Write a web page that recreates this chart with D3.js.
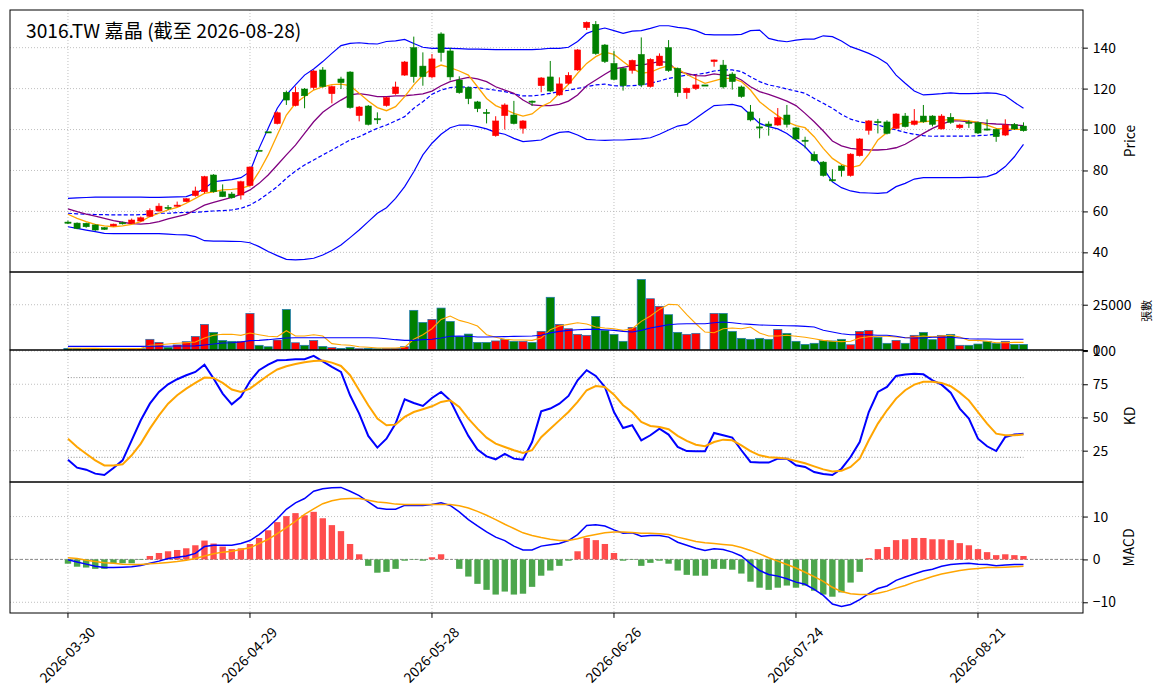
<!DOCTYPE html>
<html><head><meta charset="utf-8">
<script src="https://cdn.jsdelivr.net/npm/d3@7"></script>
<style>html,body{margin:0;padding:0;background:#fff;}svg{display:block;}</style>
</head><body>
<div id="chart"></div>
<script>
const title = "3016.TW 嘉晶 (截至 2026-08-28)";
const dates = ["2026-03-30","2026-03-31","2026-04-01","2026-04-02","2026-04-07","2026-04-08","2026-04-09","2026-04-10","2026-04-13","2026-04-14",
"2026-04-15","2026-04-16","2026-04-17","2026-04-20","2026-04-21","2026-04-22","2026-04-23","2026-04-24","2026-04-27","2026-04-28",
"2026-04-29","2026-04-30","2026-05-04","2026-05-05","2026-05-06","2026-05-07","2026-05-08","2026-05-11","2026-05-12","2026-05-13",
"2026-05-14","2026-05-15","2026-05-18","2026-05-19","2026-05-20","2026-05-21","2026-05-22","2026-05-25","2026-05-26","2026-05-27",
"2026-05-28","2026-05-29","2026-06-01","2026-06-02","2026-06-03","2026-06-04","2026-06-05","2026-06-08","2026-06-09","2026-06-10",
"2026-06-11","2026-06-12","2026-06-15","2026-06-16","2026-06-17","2026-06-18","2026-06-22","2026-06-23","2026-06-24","2026-06-25",
"2026-06-26","2026-06-29","2026-06-30","2026-07-01","2026-07-02","2026-07-03","2026-07-06","2026-07-07","2026-07-08","2026-07-09",
"2026-07-10","2026-07-13","2026-07-14","2026-07-15","2026-07-16","2026-07-17","2026-07-20","2026-07-21","2026-07-22","2026-07-23",
"2026-07-24","2026-07-27","2026-07-28","2026-07-29","2026-07-30","2026-07-31","2026-08-03","2026-08-04","2026-08-05","2026-08-06",
"2026-08-07","2026-08-10","2026-08-11","2026-08-12","2026-08-13","2026-08-14","2026-08-17","2026-08-18","2026-08-19","2026-08-20",
"2026-08-21","2026-08-24","2026-08-25","2026-08-26","2026-08-27","2026-08-28"];
const xTickDates = ["2026-03-30","2026-04-29","2026-05-28","2026-06-26","2026-07-24","2026-08-21"];

const open = [54.8,54.3,54.2,53.4,52.1,52.9,54.5,54.2,55.3,57.6,
60.2,62.0,62.6,64.8,67.7,69.6,77.8,69.6,68.5,68.0,
72.6,89.9,98.9,102.9,118.2,111.7,119.8,120.5,129.1,117.5,
124.7,128.1,106.8,111.5,105.3,111.7,117.5,126.6,140.0,131.0,
125.7,146.7,138.4,124.2,120.5,113.5,108.4,97.0,106.8,107.1,
100.6,113.9,121.4,125.7,116.9,122.6,129.1,149.8,151.4,141.3,
132.3,129.9,128.9,136.7,121.0,131.2,140.0,129.9,118.0,120.0,
121.8,133.2,131.5,127.1,120.8,108.6,101.3,102.7,102.2,107.1,
100.8,94.8,87.9,84.1,75.5,82.2,77.5,87.2,99.6,103.9,
103.7,100.6,106.6,102.5,106.6,106.6,100.3,106.0,100.9,103.6,
103.4,100.3,100.1,97.3,102.5,101.7];
const high = [55.5,54.6,54.5,53.6,52.3,54.0,55.0,56.5,57.5,61.5,
64.0,63.1,64.8,66.5,72.1,77.4,78.2,73.2,69.5,75.0,
81.9,89.9,98.9,108.8,119.0,121.0,120.3,129.2,130.5,121.5,
125.8,128.5,111.5,112.0,108.4,116.0,123.4,133.5,145.4,137.7,
136.9,147.5,140.0,126.0,121.0,114.0,110.0,106.5,112.8,114.0,
104.6,114.2,125.6,133.5,125.5,128.0,139.3,152.8,153.0,141.8,
138.5,130.3,134.2,145.0,134.8,137.2,143.7,130.3,120.5,127.0,
121.8,134.2,134.0,128.0,121.5,112.0,105.5,104.0,110.5,112.0,
101.3,96.5,89.3,84.6,80.6,82.6,88.4,95.8,104.6,105.2,
104.5,108.0,108.1,110.0,112.0,107.0,107.5,108.0,102.8,104.5,
103.8,105.0,100.5,105.0,103.2,103.5];
const low = [53.8,51.3,52.0,50.5,51.0,52.7,53.6,54.0,55.0,57.2,
59.8,60.7,62.3,64.5,67.2,68.8,69.2,67.0,66.2,65.8,
72.2,89.9,98.9,102.5,112.0,111.3,110.4,119.5,120.5,112.8,
119.8,110.2,104.0,102.0,102.7,111.2,117.0,126.2,122.9,121.4,
125.0,133.2,124.0,117.5,112.4,108.5,103.0,96.5,100.0,102.5,
98.0,111.5,118.2,118.3,116.5,122.0,128.7,148.6,136.5,132.5,
124.0,119.0,127.3,120.7,120.5,131.0,128.2,116.0,115.0,119.3,
121.8,130.7,120.0,119.5,115.5,104.0,95.7,97.0,101.8,101.0,
95.0,90.8,84.3,77.0,74.5,77.0,77.0,86.8,97.5,98.1,
97.6,100.2,101.0,102.0,103.3,101.5,100.0,102.8,100.3,100.8,
97.8,99.5,94.0,96.8,99.8,99.0];
const close = [54.4,51.7,52.5,50.9,51.2,53.8,54.2,55.8,56.9,60.5,
62.6,61.7,63.1,66.2,70.0,77.0,69.6,67.2,66.7,74.5,
81.7,89.9,98.9,108.2,114.4,118.2,116.5,128.6,121.0,121.0,
122.9,110.7,111.0,102.5,104.9,115.6,120.8,133.0,125.8,125.8,
134.5,137.6,125.7,118.0,115.1,110.2,108.0,104.2,112.0,102.9,
104.2,113.5,125.2,118.8,122.3,126.5,138.9,152.4,137.1,133.2,
124.5,121.4,133.8,121.8,134.3,135.9,128.8,118.0,120.1,121.8,
121.8,134.0,120.8,123.4,116.1,104.7,100.9,101.7,105.8,102.5,
95.4,94.4,84.8,77.5,75.1,79.9,88.0,95.4,104.2,103.5,
98.1,107.6,101.4,104.2,103.8,102.5,106.6,103.5,102.2,103.2,
98.3,99.9,96.5,102.2,100.3,99.4];
const volume = [900,900,400,900,700,700,550,700,700,5900,
4200,1500,2800,4600,7500,14150,9750,5300,4800,4800,
20200,2600,1800,5500,22400,4000,2600,5300,2000,1300,
900,1500,700,900,700,900,900,1800,21900,15250,
16900,23150,15800,7350,8800,4200,4200,5000,5900,4800,
4800,4200,10300,29100,14150,11750,8650,8100,18550,10850,
8650,4800,12500,38950,28300,24100,19500,9750,8650,9200,
0,20200,20200,10300,6450,5900,6450,5900,11400,9200,
4800,3100,3700,5300,5000,5900,2900,10300,10850,7000,
3700,5300,3700,8100,9750,5700,8100,8650,2600,2600,
3300,4800,3700,4800,3100,3100];
const ma5 = [58.6,56.6,55.0,53.7,52.9,52.5,52.9,53.7,55.0,57.5,
59.1,60.7,62.0,64.0,66.4,68.8,69.6,70.5,70.8,71.3,
72.6,79.4,87.6,97.3,107.1,112.8,116.1,119.3,120.9,121.9,
122.2,121.4,117.7,113.9,110.7,109.2,111.2,116.1,121.8,126.6,
129.6,131.5,130.2,128.6,126.6,120.9,115.2,111.7,109.9,107.9,
106.6,107.6,111.2,113.3,117.7,122.1,127.5,132.3,135.6,137.8,
136.7,133.2,129.9,127.5,128.0,129.9,131.2,129.6,126.9,124.7,
122.6,123.8,125.0,125.0,123.4,119.3,113.6,110.0,106.8,103.8,
101.9,100.9,96.5,90.8,85.9,83.0,81.4,82.5,88.0,94.9,
98.6,102.2,103.4,103.5,103.8,104.2,104.5,105.0,104.7,104.2,
103.5,102.2,100.6,100.3,100.1,100.1];
const ma10 = [61.2,59.9,58.7,57.7,56.6,55.5,54.7,54.0,53.8,54.2,
55.0,56.4,57.5,58.6,60.7,63.1,64.4,65.6,66.9,68.3,
70.5,73.7,77.8,82.7,87.6,92.4,98.1,103.8,108.4,111.6,
114.4,116.9,117.5,116.9,116.1,116.1,116.4,116.5,116.9,117.4,
118.8,121.4,123.4,124.5,125.5,124.7,123.4,120.9,119.3,117.7,
114.4,112.0,111.7,111.7,112.3,113.9,116.9,121.4,124.2,127.0,
129.6,130.4,131.2,131.5,132.3,133.2,132.8,128.3,127.4,126.3,
126.2,127.2,126.6,126.3,124.2,120.9,118.5,117.2,115.6,113.9,
111.7,107.9,103.8,99.3,94.4,92.0,90.8,90.3,90.0,90.0,
90.3,91.1,92.8,95.4,98.1,100.6,102.5,104.2,104.2,103.8,
103.5,103.0,102.7,102.5,102.2,101.9];
const bbUpper = [66.4,66.6,66.8,67.0,67.0,67.0,67.0,67.0,67.0,66.9,
66.9,67.0,67.1,67.2,68.8,71.3,74.5,75.0,75.5,76.5,
79.4,90.8,100.6,110.4,116.9,121.8,126.6,129.6,133.2,137.2,
141.0,142.1,142.4,142.0,141.8,143.0,143.3,144.0,142.0,140.2,
139.7,139.8,139.7,139.5,139.3,139.3,139.2,139.0,139.0,139.0,
139.0,139.0,139.3,139.7,139.7,140.2,143.0,147.0,148.6,149.6,
148.3,147.0,148.1,148.3,149.4,150.7,150.7,149.9,149.4,148.3,
146.5,146.2,146.2,146.2,146.5,148.3,148.6,144.5,143.4,142.9,
143.7,144.2,144.2,145.8,145.4,143.3,140.5,138.9,137.2,135.1,
132.3,126.6,122.6,118.8,116.9,117.2,117.5,117.9,117.5,117.5,
117.7,117.9,117.7,116.5,113.3,110.4];
const bbMid = [59.1,58.8,58.6,58.5,58.4,58.3,58.3,58.3,58.4,58.6,
59.1,59.1,59.4,59.5,59.6,59.9,60.2,60.4,60.7,61.5,
63.1,65.6,68.8,72.1,76.2,79.7,82.7,85.1,87.6,90.0,
92.4,94.9,96.5,98.6,100.6,102.2,104.2,106.3,110.4,113.6,
117.2,119.3,120.5,120.9,120.6,120.5,119.8,119.2,118.5,117.4,
116.4,116.4,116.9,117.7,118.5,119.2,120.1,120.9,121.8,122.2,
121.4,121.3,121.4,121.8,122.6,123.7,125.0,125.8,126.6,126.9,
127.5,128.6,129.1,129.1,128.3,125.8,123.4,121.8,120.9,119.8,
118.8,117.7,115.2,112.8,110.4,107.4,105.1,103.8,103.0,102.2,
100.9,99.8,98.6,97.7,97.0,96.7,96.8,96.8,96.8,96.8,
97.0,97.3,97.7,99.0,100.3,101.4];
const bbLower = [52.5,51.7,50.9,50.1,49.3,49.1,49.1,49.1,49.1,49.1,
49.1,48.9,48.6,48.5,47.7,45.7,45.5,45.5,45.4,45.3,
44.7,42.8,40.4,38.4,36.6,36.3,36.6,37.1,38.7,40.9,
43.6,47.2,50.9,55.0,59.1,61.8,66.4,72.1,79.4,87.6,
93.3,97.7,100.9,102.2,102.2,101.4,100.3,98.6,97.7,95.7,
94.1,94.5,94.9,97.0,98.6,99.0,97.3,95.2,94.9,94.7,
94.9,94.9,95.2,95.4,96.0,97.7,99.8,101.7,102.5,105.5,
108.7,111.7,112.0,112.3,111.2,107.1,103.0,101.4,100.3,98.1,
94.9,91.6,86.7,81.0,74.5,71.6,70.0,69.2,69.0,68.8,
69.2,72.1,73.7,75.8,76.5,76.5,76.5,76.5,76.5,76.6,
76.6,77.0,78.6,81.9,86.7,92.8];
const volMa5 = [1000,1000,900,900,800,800,800,800,800,2600,
2900,3300,3700,4000,4400,6600,8100,8650,8650,8100,
9400,8450,7550,7350,10650,7700,7700,8450,7700,3500,
2900,2600,1800,1500,1100,1100,1100,1500,5900,8450,
11750,16900,18750,16350,15050,13250,8450,7000,5900,5500,
5500,5300,6600,11200,13250,14150,15050,14350,12700,12150,
11750,10850,11750,15800,18750,22400,25200,25000,19500,14500,
9900,9550,11750,12150,11750,12700,9400,7700,7700,8100,
7550,7000,6250,5300,4800,4600,4800,6600,7350,7550,
7550,7150,6800,7150,7700,7350,7700,8100,7150,5300,
5300,4800,4000,4000,4200,4200];
const volMa20 = [2000,2000,2000,2000,2000,2000,2000,2000,2000,2100,
2100,2100,2200,2200,2300,2750,3300,3850,4000,4400,
5150,5300,5700,6250,6600,6800,6800,6800,6800,6800,
6800,6800,6800,6800,6600,6250,5700,5300,5300,5700,
5900,6600,7550,7700,7550,7150,7150,7300,7400,7500,
7600,7700,8100,9450,10300,10850,11200,11400,11400,11200,
10850,10300,9900,10850,12150,13050,13950,14350,14500,14500,
14500,15050,15450,15050,14500,14150,13800,13650,13500,13400,
13300,13050,12700,10850,9900,9000,8450,8450,8450,8100,
8100,7550,6800,6600,6600,7000,7000,7000,6600,6250,
6050,6050,5900,5900,5900,5900];
const kValues = [18.2,12.2,10.7,7.7,6.7,11.9,17.7,32.8,47.9,60.4,
69.2,75.0,78.8,81.8,84.3,89.8,79.3,68.0,59.9,65.5,
77.3,85.6,89.8,93.1,93.3,93.8,93.8,96.4,92.3,88.1,
84.3,66.7,52.9,36.1,27.3,34.0,45.4,63.7,60.9,58.7,
64.7,69.2,62.9,49.1,36.1,25.8,20.7,18.5,22.5,19.0,
18.2,31.5,54.6,56.7,60.4,66.2,78.0,85.6,81.3,73.0,
54.1,42.1,44.1,32.8,36.6,41.6,37.1,27.8,24.7,24.5,
24.5,38.3,36.6,34.8,25.3,16.5,16.0,16.0,19.0,19.0,
14.0,12.7,8.9,7.4,6.7,11.4,20.2,31.5,54.1,69.2,
73.0,81.3,82.3,83.0,82.5,78.0,74.7,68.7,56.7,49.1,
34.0,28.3,24.7,35.3,37.1,37.8];
const dValues = [34.0,27.8,22.7,17.7,13.9,13.9,14.7,21.5,30.3,41.6,
51.6,60.4,66.7,71.7,76.0,80.0,79.8,76.0,71.0,69.2,
71.7,76.8,81.8,86.1,88.6,90.3,91.6,92.6,92.8,91.3,
88.8,81.8,70.5,59.2,49.1,44.1,44.6,50.4,54.1,56.2,
58.4,61.7,62.9,57.9,49.1,41.6,34.8,30.3,27.8,25.3,
23.2,25.3,35.1,41.5,47.8,54.1,61.7,70.5,73.7,73.0,
67.2,59.2,54.1,46.6,43.6,42.8,41.1,36.1,32.3,29.5,
28.3,31.5,33.3,32.8,29.0,24.7,21.5,20.0,19.7,19.0,
17.2,15.5,13.2,10.9,9.4,9.9,12.7,19.0,32.8,45.4,
55.4,64.2,70.5,74.7,76.8,76.8,76.0,73.5,68.7,62.9,
54.1,45.4,37.8,36.6,36.6,37.1];
const dif = [-0.1,-0.6,-1.1,-1.6,-1.9,-1.9,-1.8,-1.7,-1.4,-0.9,
-0.4,0.2,0.5,0.8,1.4,3.0,3.3,3.3,3.3,3.7,
4.4,5.8,7.5,9.5,11.7,13.2,14.2,15.9,16.5,16.7,
16.8,15.9,14.9,13.4,12.0,11.7,11.7,12.6,12.6,12.6,
12.8,13.2,12.6,11.1,9.3,7.8,6.4,5.2,4.4,3.1,
2.2,2.2,3.1,3.4,3.7,4.4,5.8,7.9,8.1,7.8,
6.9,6.1,6.2,5.4,5.6,5.6,5.2,4.0,3.3,2.6,
2.1,2.5,2.3,1.7,0.8,-1.0,-2.6,-3.5,-3.9,-4.5,
-5.3,-5.8,-7.0,-8.4,-10.4,-11.0,-10.5,-9.4,-8.0,-6.8,
-6.2,-4.9,-4.1,-3.4,-2.7,-2.3,-1.6,-1.2,-1.0,-0.9,
-1.1,-1.2,-1.5,-1.3,-1.2,-1.2];
const dea = [0.4,0.2,-0.2,-0.5,-0.8,-0.9,-1.1,-1.2,-1.2,-1.0,
-0.9,-0.7,-0.5,-0.2,0.2,0.8,1.3,1.7,1.9,2.3,
2.7,3.7,4.7,6.0,7.4,8.9,10.5,11.8,13.0,13.7,
14.1,14.2,14.2,13.8,13.4,13.2,12.9,12.8,12.8,12.8,
12.8,12.8,12.8,12.5,12.0,11.2,10.3,9.3,8.2,7.2,
6.2,5.6,5.1,4.7,4.4,4.4,4.8,5.4,5.8,6.2,
6.4,6.4,6.3,6.1,6.1,6.0,5.8,5.2,4.7,4.2,
3.9,3.7,3.5,3.3,2.8,2.1,1.3,0.4,-0.4,-1.2,
-2.0,-3.0,-4.0,-5.1,-6.5,-7.5,-8.0,-8.2,-8.2,-7.9,
-7.4,-6.7,-6.1,-5.3,-4.7,-4.0,-3.4,-3.0,-2.6,-2.3,
-2.1,-1.9,-1.9,-1.8,-1.7,-1.6];
const hist = [-1.0,-1.7,-1.9,-2.2,-2.2,-0.9,-0.9,-0.9,-0.1,0.8,
1.5,1.9,2.2,2.6,3.3,4.4,3.7,3.0,2.4,2.6,
3.6,5.0,6.8,8.7,10.1,10.8,10.3,11.1,9.6,8.0,
6.6,3.6,1.2,-1.5,-3.1,-2.9,-2.2,-0.3,-0.1,-0.3,
0.5,1.2,0.0,-2.2,-4.0,-5.7,-7.1,-8.2,-7.5,-8.2,
-8.0,-6.4,-3.8,-2.6,-1.5,-0.3,1.9,5.0,4.5,3.6,
1.5,-0.3,-0.1,-1.5,-0.8,-0.3,-1.0,-2.6,-3.6,-3.8,
-3.8,-2.2,-2.2,-2.4,-3.3,-5.2,-6.6,-7.1,-6.6,-6.1,
-6.6,-6.1,-7.3,-8.2,-8.7,-7.7,-5.4,-2.9,0.3,2.4,
2.9,4.5,4.7,5.0,5.0,4.7,4.7,4.5,3.8,3.3,
2.4,1.7,1.0,1.2,1.0,0.8];
const priceTicks = [40,60,80,100,120,140];
const volTicks = [0,25000];
const kdTicks = [25,50,75,100];
const kdRefLines = [20,80];
const macdTicks = [-10,0,10];

const W = 1164, H = 698;
const L = 10, R = 1083;
const panels = {
  price: {top:10, bottom:272},
  vol: {top:272, bottom:350},
  kd: {top:350, bottom:482},
  macd: {top:482, bottom:613}
};
const FONT = "'Noto Sans CJK TC','Noto Sans',sans-serif";
const UP = "#ff0000", DOWN = "#008000";

const svg = d3.select("#chart").append("svg").attr("width", W).attr("height", H)
  .style("font-family", FONT);
svg.append("rect").attr("width", W).attr("height", H).attr("fill", "#fff");

const n = dates.length;
const idx = d3.range(n);
const x = d3.scaleLinear().domain([-6.37, 111.54]).range([L, R]);

const yP = d3.scaleLinear().domain([30.4, 158.4]).range([panels.price.bottom, panels.price.top]);
const yV = d3.scaleLinear().domain([0, 43050]).range([panels.vol.bottom, panels.vol.top]);
const yK = d3.scaleLinear().domain([1.4, 100.8]).range([panels.kd.bottom, panels.kd.top]);
const yM = d3.scaleLinear().domain([-12.5, 18.06]).range([panels.macd.bottom, panels.macd.top]);

const defs = svg.append("defs");
Object.entries(panels).forEach(([k,p]) => {
  defs.append("clipPath").attr("id","clip-"+k).append("rect")
    .attr("x", L).attr("y", p.top).attr("width", R-L).attr("height", p.bottom-p.top);
});

const xTickIdx = xTickDates.map(d => dates.indexOf(d));
const gridColor = "#b0b0b0";

function drawGrid(key, yScale, ticks) {
  const p = panels[key];
  const g = svg.append("g").attr("clip-path", `url(#clip-${key})`);
  xTickIdx.forEach(i => {
    g.append("line").attr("x1", x(i)).attr("x2", x(i)).attr("y1", p.top).attr("y2", p.bottom)
      .attr("stroke", gridColor).attr("stroke-width", 0.8).attr("stroke-dasharray", "1,2");
  });
  ticks.forEach(t => {
    const yy = yScale(t);
    if (yy <= p.top + 0.5 || yy >= p.bottom - 0.5) return;
    g.append("line").attr("x1", L).attr("x2", R).attr("y1", yy).attr("y2", yy)
      .attr("stroke", gridColor).attr("stroke-width", 0.8).attr("stroke-dasharray", "1,2");
  });
  return g;
}

function lineOf(arr, yScale) {
  return d3.line().x((d,i) => x(i)).y(d => yScale(d))(arr);
}

// ---------- Price panel ----------
const gP = drawGrid("price", yP, priceTicks);
const isUp = i => close[i] > open[i];
gP.append("path").attr("d", lineOf(bbUpper, yP)).attr("fill","none").attr("stroke","#0000ff").attr("stroke-width",1.2);
gP.append("path").attr("d", lineOf(bbLower, yP)).attr("fill","none").attr("stroke","#0000ff").attr("stroke-width",1.2);
gP.append("path").attr("d", lineOf(bbMid, yP)).attr("fill","none").attr("stroke","#0000ff").attr("stroke-width",1.2).attr("stroke-dasharray","4,2.2");
gP.append("path").attr("d", lineOf(ma10, yP)).attr("fill","none").attr("stroke","#800080").attr("stroke-width",1.3);
gP.append("path").attr("d", lineOf(ma5, yP)).attr("fill","none").attr("stroke","#ffa500").attr("stroke-width",1.3);

const step = x(1) - x(0);
const bodyW = step * 0.68;
const candles = gP.append("g");
idx.forEach(i => {
  const c = isUp(i) ? UP : DOWN;
  candles.append("line").attr("x1", x(i)).attr("x2", x(i)).attr("y1", yP(high[i])).attr("y2", yP(low[i]))
    .attr("stroke", c).attr("stroke-width", 1);
  const top = yP(Math.max(open[i], close[i])), bot = yP(Math.min(open[i], close[i]));
  candles.append("rect").attr("x", x(i) - bodyW/2).attr("y", top).attr("width", bodyW)
    .attr("height", Math.max(bot - top, 1.2)).attr("fill", c).attr("stroke", c).attr("stroke-width", 0.5);
});

// ---------- Volume panel ----------
const gV = drawGrid("vol", yV, volTicks);
const volW = step * 0.9;
idx.forEach(i => {
  if (volume[i] <= 0) return;
  gV.append("rect").attr("x", x(i) - volW/2).attr("y", yV(volume[i])).attr("width", volW)
    .attr("height", yV(0) - yV(volume[i])).attr("fill", isUp(i) ? UP : DOWN)
    .attr("stroke", "#1f77b4").attr("stroke-width", 0.7);
});
gV.append("path").attr("d", lineOf(volMa5, yV)).attr("fill","none").attr("stroke","#ffa500").attr("stroke-width",1.1);
gV.append("path").attr("d", lineOf(volMa20, yV)).attr("fill","none").attr("stroke","#0000ff").attr("stroke-width",1.1);

// ---------- KD panel ----------
const gK = drawGrid("kd", yK, kdTicks);
kdRefLines.forEach(v => {
  gK.append("line").attr("x1", x(0)).attr("x2", x(n-1)).attr("y1", yK(v)).attr("y2", yK(v))
    .attr("stroke", "#808080").attr("stroke-width", 0.9).attr("stroke-dasharray", "1,1.8");
});
gK.append("path").attr("d", lineOf(kValues, yK)).attr("fill","none").attr("stroke","#0000ff").attr("stroke-width",2);
gK.append("path").attr("d", lineOf(dValues, yK)).attr("fill","none").attr("stroke","#ffa500").attr("stroke-width",2);

// ---------- MACD panel ----------
const gM = drawGrid("macd", yM, macdTicks);
gM.append("line").attr("x1", L).attr("x2", R).attr("y1", yM(0)).attr("y2", yM(0))
  .attr("stroke", "#808080").attr("stroke-width", 0.9).attr("stroke-dasharray", "3,2");
const histW = step * 0.7;
idx.forEach(i => {
  const v = hist[i];
  gM.append("rect").attr("x", x(i) - histW/2).attr("y", Math.min(yM(v), yM(0)))
    .attr("width", histW).attr("height", Math.abs(yM(v) - yM(0)))
    .attr("fill", v >= 0 ? "#ff4d4d" : "#4ca64c");
});
gM.append("path").attr("d", lineOf(dif, yM)).attr("fill","none").attr("stroke","#0000ff").attr("stroke-width",1.5);
gM.append("path").attr("d", lineOf(dea, yM)).attr("fill","none").attr("stroke","#ffa500").attr("stroke-width",1.5);

// ---------- Frames & axes ----------
Object.values(panels).forEach(p => {
  svg.append("rect").attr("x", L).attr("y", p.top).attr("width", R-L).attr("height", p.bottom-p.top)
    .attr("fill","none").attr("stroke","#000").attr("stroke-width",1);
});

function rightAxis(yScale, ticks, fmt) {
  const g = svg.append("g").attr("transform", `translate(${R},0)`)
    .call(d3.axisRight(yScale).tickValues(ticks).tickSize(4.9).tickPadding(4.9).tickFormat(fmt || d3.format("d")));
  g.select(".domain").remove();
  g.selectAll("text").attr("font-size", "13.9px").attr("font-family", FONT).attr("fill", "#000");
  g.selectAll("line").attr("stroke", "#000");
  return g;
}
rightAxis(yP, priceTicks);
rightAxis(yV, volTicks);
rightAxis(yK, kdTicks);
rightAxis(yM, macdTicks, d => d < 0 ? "\u2212" + Math.abs(d) : String(d));

// x axis
const xg = svg.append("g");
xTickIdx.forEach((i, k) => {
  const xx = x(i);
  xg.append("line").attr("x1", xx).attr("x2", xx).attr("y1", panels.macd.bottom).attr("y2", panels.macd.bottom + 4.9)
    .attr("stroke", "#000").attr("stroke-width", 1);
  xg.append("text").attr("transform", `translate(${xx + 24},${629}) rotate(-45)`)
    .attr("text-anchor", "end").attr("dominant-baseline", "central")
    .attr("font-size", "13.9px").attr("fill", "#000").text(xTickDates[k]);
});

// axis labels
function yLabel(text, cx, cy, size) {
  svg.append("text").attr("transform", `translate(${cx},${cy}) rotate(-90)`)
    .attr("text-anchor", "middle").attr("dominant-baseline", "central")
    .attr("font-size", size).attr("fill", "#000").text(text);
}
yLabel("Price", 1129, (panels.price.top + panels.price.bottom)/2, "13.9px");
yLabel("張數", 1146, (panels.vol.top + panels.vol.bottom)/2, "11px");
yLabel("KD", 1129, (panels.kd.top + panels.kd.bottom)/2, "13.9px");
yLabel("MACD", 1128, (panels.macd.top + panels.macd.bottom)/2, "13.9px");

// title
svg.append("text").attr("x", 26).attr("y", 38).attr("font-size", "19.2px").attr("font-weight", 400)
  .attr("fill", "#000").text(title);
</script>
</body></html>
